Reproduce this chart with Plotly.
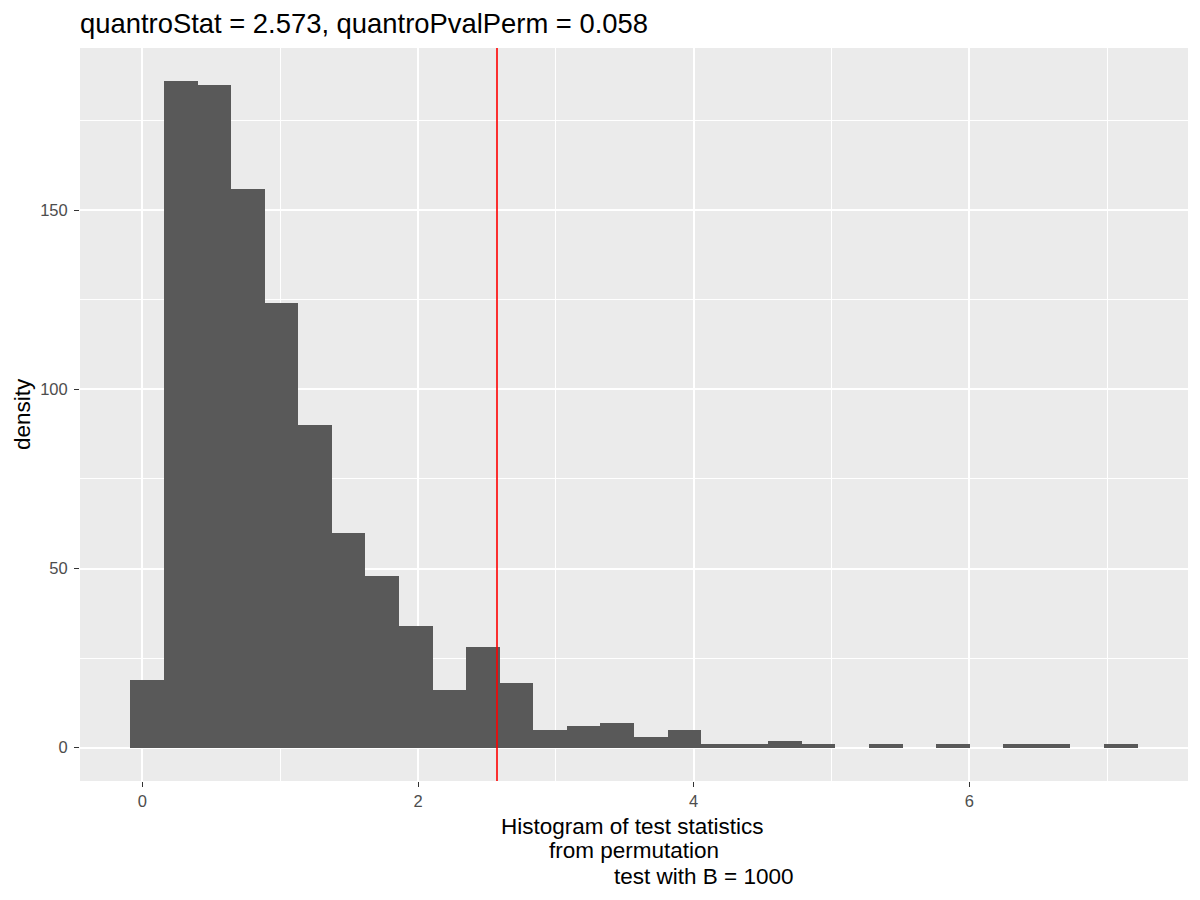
import numpy as np
import plotly.graph_objects as go

# histogram of permutation test statistics (B = 1000), 30 bins
bin_start = -0.087
bin_width = 0.2436
counts = [19, 186, 185, 156, 124, 90, 60, 48, 34, 16,
          28, 18, 5, 6, 7, 3, 5, 1, 1, 2,
          1, 0, 1, 0, 1, 0, 1, 1, 0, 1]

quantro_stat = 2.573
quantro_pval = 0.058
B = 1000

title_txt = f"quantroStat = {quantro_stat}, quantroPvalPerm = {quantro_pval}"
xlab_lines = ["Histogram of test statistics", "from permutation", f"test with B = {B}"]
ylab = "density"

centers = bin_start + bin_width * (np.arange(len(counts)) + 0.5)

FONT = "Liberation Sans, Arial, sans-serif"
OFF = 8  # page body margin of the html
W, H = 1184, 884
# panel in page pixels: left 80, right 1188, top 48, bottom 781
ML, MT = 80 - OFF, 48 - OFF
MR, MB = W - (1188 - OFF), H - (781 - OFF)
PW, PH = W - ML - MR, H - MT - MB

fig = go.Figure()
fig.add_trace(go.Bar(
    x=centers, y=counts, width=bin_width,
    marker=dict(color="#595959", line=dict(width=0)),
    showlegend=False,
))

# vertical line at the observed statistic
fig.add_shape(type="line", x0=quantro_stat, x1=quantro_stat, xref="x",
              y0=0, y1=1, yref="paper", line=dict(color="#FF0000", width=1.6))

xmin = bin_start
xmax = bin_start + bin_width * len(counts)
xpad = (xmax - xmin) * 0.05
ymax = max(counts)
ypad = ymax * 0.05

axis_common = dict(
    automargin=False,
    showgrid=True, gridcolor="white", gridwidth=1.5,
    zeroline=False, showline=False,
    ticks="outside", ticklen=5, tickwidth=1.4, tickcolor="#333333",
    tickfont=dict(family=FONT, size=16.5, color="#4D4D4D"),
)

fig.update_xaxes(
    range=[xmin - xpad, xmax + xpad], tick0=0, dtick=2,
    minor=dict(dtick=1, tick0=0, showgrid=True, gridcolor="white", gridwidth=0.7),
    **axis_common,
)
fig.update_yaxes(
    range=[-ypad, ymax + ypad], tick0=0, dtick=50,
    minor=dict(dtick=25, tick0=0, showgrid=True, gridcolor="white", gridwidth=0.7),
    ticklabelstandoff=3,
    **axis_common,
)


def px_to_paper(px, py):
    # page pixel -> paper coordinates
    return (px - OFF - ML) / PW, (H - MB - (py - OFF)) / PH


# y label
yx, yy = px_to_paper(22, 414)
fig.add_annotation(text=ylab, x=yx, y=yy, xref="paper", yref="paper",
                   showarrow=False, textangle=-90, xanchor="center", yanchor="middle",
                   font=dict(family=FONT, size=22.5, color="black"))

# multi-line x label, each line placed as in the original
xlab_px = [(632, 826), (634, 851), (703, 876)]
for txt, (px, py) in zip(xlab_lines, xlab_px):
    ax, ay = px_to_paper(px, py)
    fig.add_annotation(text=txt, x=ax, y=ay, xref="paper", yref="paper",
                       showarrow=False, xanchor="center", yanchor="middle",
                       font=dict(family=FONT, size=22.5, color="black"))

fig.update_layout(
    width=W, height=H,
    paper_bgcolor="white", plot_bgcolor="#EBEBEB",
    bargap=0,
    margin=dict(l=ML, r=MR, t=MT, b=MB),
    title=dict(text=title_txt, x=(80 - OFF) / W, xanchor="left", xref="container",
               y=1 - (23 - OFF) / H, yanchor="middle",
               font=dict(family=FONT, size=27.4, color="black")),
)

fig.write_html("out.html")
